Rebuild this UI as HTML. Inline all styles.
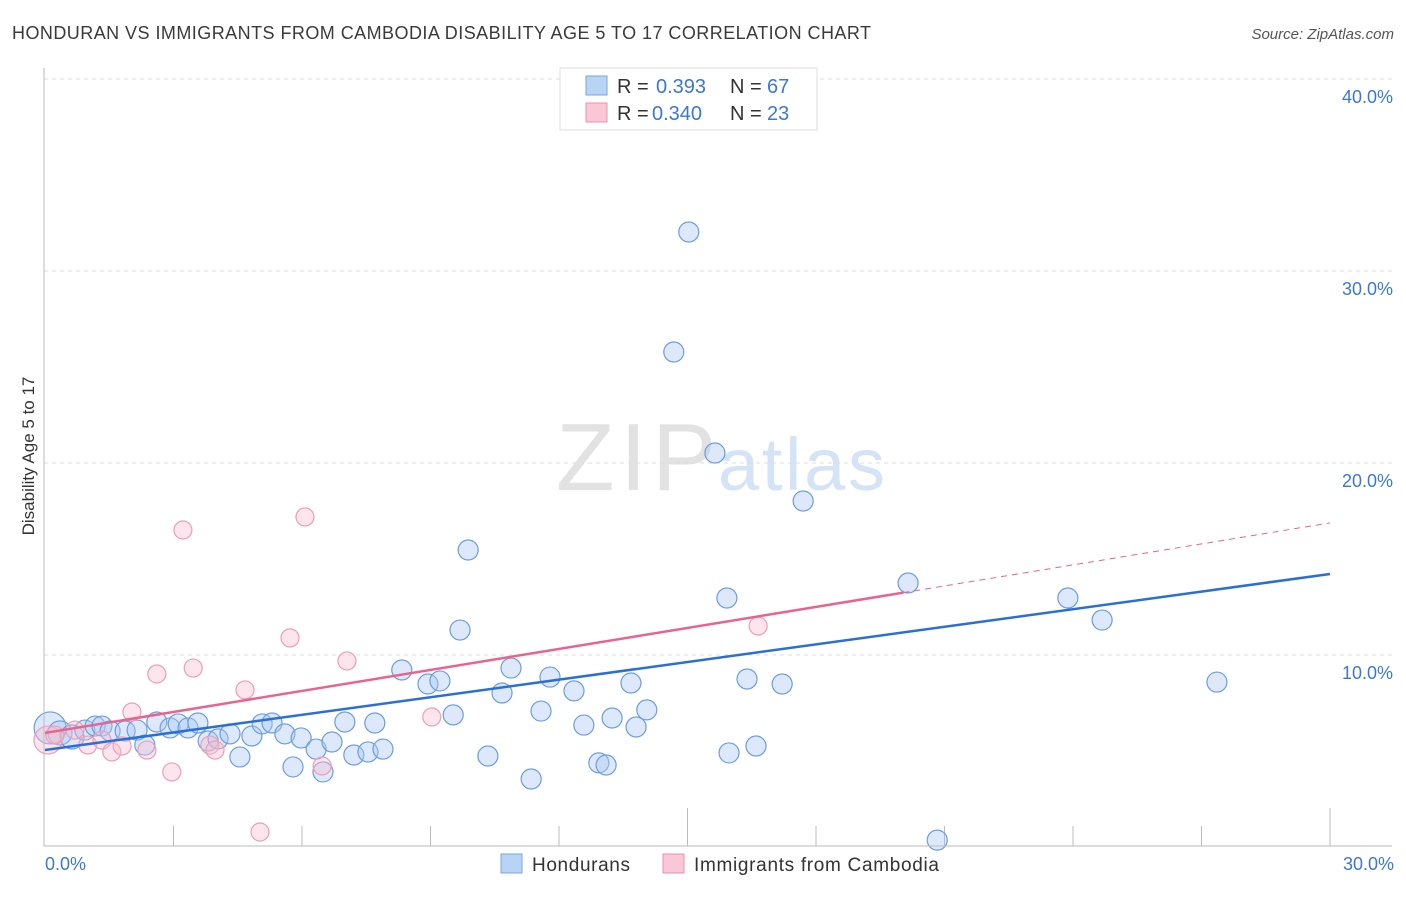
<!DOCTYPE html>
<html><head><meta charset="utf-8"><style>
body{margin:0;background:#fff;font-family:"Liberation Sans",sans-serif;}
svg text{font-family:"Liberation Sans",sans-serif;}
</style></head><body>
<svg id="c" width="1406" height="892">
<text x="12" y="39" font-size="18" fill="#3a3a3a" textLength="859">HONDURAN VS IMMIGRANTS FROM CAMBODIA DISABILITY AGE 5 TO 17 CORRELATION CHART</text>
<text x="1394" y="39" font-size="15" fill="#555" text-anchor="end" font-style="italic">Source: ZipAtlas.com</text>
<text x="716" y="490" font-size="96" fill="#e2e2e2" text-anchor="end" textLength="160" font-family="Liberation Serif">ZIP</text>
<text x="718" y="490" font-size="74" fill="#d4e3f5" textLength="167">atlas</text>
<g id="grid"></g><g id="pts"></g><g id="lines"></g>
<line x1="44" y1="68" x2="44" y2="846" stroke="#bbb"/>
<line x1="44" y1="846" x2="1392" y2="846" stroke="#bbb"/>
<text transform="translate(34,456) rotate(-90)" font-size="17" fill="#333" text-anchor="middle">Disability Age 5 to 17</text>
<text x="45" y="870" font-size="18" fill="#3b78d4">0.0%</text>
<text x="1394" y="870" font-size="18" fill="#3b78d4" text-anchor="end">30.0%</text>
<g>
<rect x="560" y="68" width="257" height="62" fill="#fff" stroke="#ddd"/>
<rect x="586" y="76" width="21" height="19" fill="#b9d3f5" stroke="#7aa6e3"/>
<rect x="586" y="103" width="21" height="19" fill="#f9c7d6" stroke="#eb92ac"/>
<text x="617" y="93" font-size="20" fill="#333">R = <tspan x="656" fill="#3b78d4">0.393</tspan><tspan x="730">N = </tspan><tspan x="767" fill="#3b78d4">67</tspan></text>
<text x="617" y="120" font-size="20" fill="#333">R = <tspan x="652" fill="#3b78d4">0.340</tspan><tspan x="730">N = </tspan><tspan x="767" fill="#3b78d4">23</tspan></text>
</g>
<g>
<rect x="501" y="854" width="21" height="19" fill="#b9d3f5" stroke="#7aa6e3"/>
<text x="532" y="871" font-size="19" fill="#333" textLength="98">Hondurans</text>
<rect x="663" y="854" width="21" height="19" fill="#f9c7d6" stroke="#eb92ac"/>
<text x="694" y="871" font-size="19" fill="#333" textLength="245">Immigrants from Cambodia</text>
</g>
</svg>
<script>
const yTicks=[10,20,30,40];
const yTickLabels=["10.0%","20.0%","30.0%","40.0%"];
const blueX=[0.12,0.35,0.63,0.93,1.17,1.33,1.52,1.87,2.15,2.33,2.61,2.92,3.11,3.34,3.57,3.81,4.04,4.32,4.55,4.83,5.07,5.30,5.60,5.79,5.98,6.33,6.49,6.70,7.00,7.21,7.54,7.70,7.89,8.33,8.94,9.22,9.53,9.69,9.88,10.34,10.67,10.88,11.35,11.58,11.79,12.35,12.58,12.93,13.10,13.24,13.68,13.80,14.05,14.68,15.03,15.64,15.92,15.97,16.39,16.60,17.21,17.70,20.15,20.83,23.88,24.68,27.36];
const blueY=[6.20,5.94,5.73,6.09,6.30,6.30,6.04,6.04,6.09,5.31,6.51,6.20,6.41,6.20,6.46,5.52,5.63,5.89,4.69,5.78,6.41,6.46,5.89,4.17,5.68,5.10,3.91,5.47,6.51,4.79,4.95,6.46,5.10,9.22,8.49,8.65,6.88,11.30,15.47,4.74,8.02,9.32,3.54,7.08,8.85,8.13,6.35,4.38,4.27,6.72,8.54,6.25,7.14,25.78,32.03,20.52,12.97,4.90,8.75,5.26,8.49,18.02,13.75,0.36,12.97,11.82,8.59];
const pinkX=[0.07,0.23,0.70,1.00,1.33,1.56,1.80,2.03,2.38,2.61,2.96,3.22,3.46,3.85,3.97,4.67,5.02,5.72,6.07,6.47,7.05,9.03,16.65];
const pinkY=[5.57,5.83,6.09,5.31,5.57,4.95,5.26,7.03,5.05,9.01,3.91,16.51,9.32,5.31,5.05,8.18,0.78,10.89,17.19,4.22,9.69,6.77,11.51];
const blueTrend=[5.05,14.22];
const pinkTrend=[5.94,16.88];
const pinkSolidEnd=20.04;
const NS="http://www.w3.org/2000/svg";
const X=v=>45+v/30*1285, Y=v=>847-v*19.2;
function mk(t,a,p){const e=document.createElementNS(NS,t);for(const k in a)e.setAttribute(k,a[k]);p.appendChild(e);return e;}
const grid=document.getElementById('grid');
mk('line',{x1:44,y1:79,x2:1392,y2:79,stroke:'#ddd','stroke-dasharray':'4 4'},grid);
yTicks.forEach((t,i)=>{
 const l=mk('line',{x1:44,y1:Y(t),x2:1392,y2:Y(t),stroke:'#ddd','stroke-dasharray':'4 4'},grid);
 
 
 const tx=mk('text',{x:1393,y:Y(t)+24,'font-size':18,fill:'#3b78d4','text-anchor':'end'},grid);
 tx.textContent=yTickLabels[i];
 
 
});
for(let i=1;i<=10;i++){
 const x=X(i*3);const tall=(i==5||i==10);
 const l=mk('line',{x1:x,y1:tall?808:826,x2:x,y2:846,stroke:'#bbb'},grid);
 
 
}
const pts=document.getElementById('pts');
blueX.forEach((x,i)=>{
 const c=mk('circle',{cx:X(x),cy:Y(blueY[i]),r:i==0?16:(i<3?12:10),fill:'rgba(170,200,242,0.4)',stroke:'#6a9de0','stroke-width':1.2},pts);
 
 
});
pinkX.forEach((x,i)=>{
 const c=mk('circle',{cx:X(x),cy:Y(pinkY[i]),r:i==0?14:9,fill:'rgba(248,190,208,0.4)',stroke:'#ee9db5','stroke-width':1.2},pts);
 
 
});
const lines=document.getElementById('lines');
const bl=mk('line',{x1:X(0),y1:Y(blueTrend[0]),x2:X(30),y2:Y(blueTrend[1]),stroke:'#2a6fd6','stroke-width':2.5},lines);


const pAt=x=>pinkTrend[0]+(pinkTrend[1]-pinkTrend[0])*x/30;
const pl=mk('line',{x1:X(0),y1:Y(pAt(0)),x2:X(pinkSolidEnd),y2:Y(pAt(pinkSolidEnd)),stroke:'#e8648e','stroke-width':2.5},lines);


const pd=mk('line',{x1:X(pinkSolidEnd),y1:Y(pAt(pinkSolidEnd)),x2:X(30),y2:Y(pAt(30)),stroke:'#e8648e','stroke-width':1,'stroke-dasharray':'6 5'},lines);


</script>
</body></html>
